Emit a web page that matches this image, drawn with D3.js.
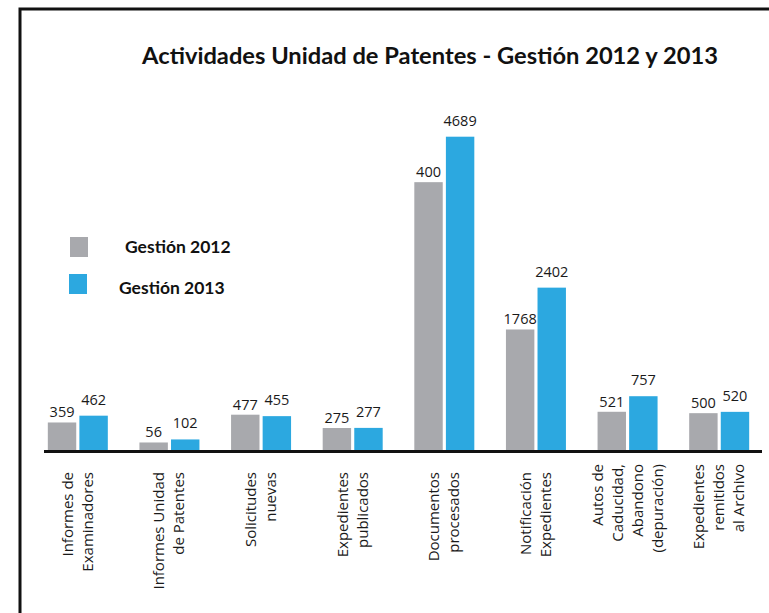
<!DOCTYPE html>
<html>
<head>
<meta charset="utf-8">
<script src="https://cdn.jsdelivr.net/npm/d3@7"></script>
<style>
  body { margin: 0; background: #fff; }
  svg { display: block; }
</style>
</head>
<body>
<div id="chart"></div>
<script>
// ━━━━━━━━━━━━━━━━━━━━━━━━━━━━━━━━━━━━━━━━━━━━━━━━━━━━━━━━━━━━━━━━━━━━━━━━━━━━━━
// Data /////////////////////////////////////////////////////////////////////////
// ━━━━━━━━━━━━━━━━━━━━━━━━━━━━━━━━━━━━━━━━━━━━━━━━━━━━━━━━━━━━━━━━━━━━━━━━━━━━━━

const categories = [
  ['Informes de', 'Examinadores'],
  ['Informes Unidad', 'de Patentes'],
  ['Solicitudes', 'nuevas'],
  ['Expedientes', 'publicados'],
  ['Documentos', 'procesados'],
  ['Notificación', 'Expedientes'],
  ['Autos de', 'Caducidad,', 'Abandono', '(depuración)'],
  ['Expedientes', 'remitidos', 'al Archivo']
];

const series = ['Gestión 2012', 'Gestión 2013'];
const values2012 = [359, 56, 477, 275, 4000, 1768, 521, 500];
const values2013 = [462, 102, 455, 277, 4689, 2402, 757, 520];
// etiquetas tal como aparecen en el gráfico original
const labels2012 = ['359', '56', '477', '275', '400', '1768', '521', '500'];
const labels2013 = ['462', '102', '455', '277', '4689', '2402', '757', '520'];

const title = 'Actividades Unidad de Patentes - Gestión 2012 y 2013';

// ━━━━━━━━━━━━━━━━━━━━━━━━━━━━━━━━━━━━━━━━━━━━━━━━━━━━━━━━━━━━━━━━━━━━━━━━━━━━━━
// Setup ////////////////////////////////////////////////////////////////////////
// ━━━━━━━━━━━━━━━━━━━━━━━━━━━━━━━━━━━━━━━━━━━━━━━━━━━━━━━━━━━━━━━━━━━━━━━━━━━━━━

const width = 769;
const height = 613;
const baseline = 450;
const colors = ['#a8a9ad', '#2ca8e0'];

const svg = d3.select('#chart').append('svg')
  .attr('width', width)
  .attr('height', height)
  .attr('viewBox', [0, 0, width, height]);

// marco
svg.append('rect')
  .attr('x', 20).attr('y', 9)
  .attr('width', 820).attr('height', 700)
  .attr('fill', 'none')
  .attr('stroke', '#111')
  .attr('stroke-width', 3);

svg.append('text')
  .attr('x', 430).attr('y', 64)
  .attr('text-anchor', 'middle')
  .attr('font-family', 'Lato, sans-serif')
  .attr('font-weight', 'bold')
  .attr('font-size', 23.7)
  .attr('fill', '#111')
  .text(title);

// ━━━━━━━━━━━━━━━━━━━━━━━━━━━━━━━━━━━━━━━━━━━━━━━━━━━━━━━━━━━━━━━━━━━━━━━━━━━━━━
// Scales ///////////////////////////////////////////////////////////////////////
// ━━━━━━━━━━━━━━━━━━━━━━━━━━━━━━━━━━━━━━━━━━━━━━━━━━━━━━━━━━━━━━━━━━━━━━━━━━━━━━

const x0 = d3.scaleBand().domain(d3.range(categories.length)).range([32, 765]);
const x1 = d3.scaleBand().domain(series).range([-30, 30]).paddingInner(0.1);
const y = d3.scaleLinear().domain([-58, 4750]).range([baseline, baseline - 4808 * 0.066]);

const rows = categories.map((c, i) => ({
  i,
  bars: [
    { s: series[0], v: values2012[i], label: labels2012[i], gap: 5 },
    { s: series[1], v: values2013[i], label: labels2013[i], gap: 11 }
  ]
}));

// ━━━━━━━━━━━━━━━━━━━━━━━━━━━━━━━━━━━━━━━━━━━━━━━━━━━━━━━━━━━━━━━━━━━━━━━━━━━━━━
// Bars /////////////////////////////////////////////////////////////////////////
// ━━━━━━━━━━━━━━━━━━━━━━━━━━━━━━━━━━━━━━━━━━━━━━━━━━━━━━━━━━━━━━━━━━━━━━━━━━━━━━

const groups = svg.append('g').selectAll('g')
  .data(rows)
  .join('g')
  .attr('transform', d => `translate(${x0(d.i) + x0.bandwidth() / 2},0)`);

groups.selectAll('rect')
  .data(d => d.bars)
  .join('rect')
  .attr('x', d => x1(d.s))
  .attr('y', d => y(d.v))
  .attr('width', x1.bandwidth())
  .attr('height', d => baseline - y(d.v))
  .attr('fill', (d, j) => colors[j]);

groups.selectAll('text')
  .data(d => d.bars)
  .join('text')
  .attr('x', d => x1(d.s) + x1.bandwidth() / 2)
  .attr('y', d => y(d.v) - d.gap)
  .attr('text-anchor', 'middle')
  .attr('font-family', '"Open Sans", sans-serif')
  .attr('font-size', 14.5)
  .attr('fill', '#1a1a1a')
  .text(d => d.label);

// ━━━━━━━━━━━━━━━━━━━━━━━━━━━━━━━━━━━━━━━━━━━━━━━━━━━━━━━━━━━━━━━━━━━━━━━━━━━━━━
// Eje X ////////////////////////////////////////////////////////////////////////
// ━━━━━━━━━━━━━━━━━━━━━━━━━━━━━━━━━━━━━━━━━━━━━━━━━━━━━━━━━━━━━━━━━━━━━━━━━━━━━━

const xAxis = svg.append('g')
  .attr('transform', `translate(0,${baseline})`)
  .call(d3.axisBottom(x0).tickSize(0).tickFormat(''));

xAxis.select('.domain').remove();

xAxis.append('line')
  .attr('x1', 44).attr('x2', 762)
  .attr('y1', 1.5).attr('y2', 1.5)
  .attr('stroke', '#111')
  .attr('stroke-width', 3);

xAxis.selectAll('.tick text').each(function(i) {
  const lines = categories[i];
  const top = lines.length > 2 ? 14 : 22;
  const t = d3.select(this)
    .attr('transform', 'rotate(-90)')
    .attr('text-anchor', 'end')
    .attr('font-family', '"Open Sans", sans-serif')
    .attr('font-size', 15)
    .attr('fill', '#1a1a1a')
    .attr('y', null).attr('dy', null);
  t.selectAll('tspan')
    .data(lines)
    .join('tspan')
    .attr('x', -top)
    .attr('y', (d, k) => (k - (lines.length - 1) / 2) * 20 + 5)
    .text(d => d);
});

// ━━━━━━━━━━━━━━━━━━━━━━━━━━━━━━━━━━━━━━━━━━━━━━━━━━━━━━━━━━━━━━━━━━━━━━━━━━━━━━
// Leyenda //////////////////////////////////////////////////////////////////////
// ━━━━━━━━━━━━━━━━━━━━━━━━━━━━━━━━━━━━━━━━━━━━━━━━━━━━━━━━━━━━━━━━━━━━━━━━━━━━━━

const legend = svg.append('g').selectAll('g')
  .data(series)
  .join('g')
  .attr('transform', (d, j) => `translate(${70 - j},${237 + j * 37})`);

legend.append('rect')
  .attr('width', 18).attr('height', 20)
  .attr('fill', (d, j) => colors[j]);

legend.append('text')
  .attr('x', (d, j) => j ? 50 : 55)
  .attr('y', (d, j) => j ? 20 : 16)
  .attr('font-family', 'Lato, sans-serif')
  .attr('font-weight', 'bold')
  .attr('font-size', 17.5)
  .attr('fill', '#111')
  .text(d => d);
</script>
</body>
</html>
